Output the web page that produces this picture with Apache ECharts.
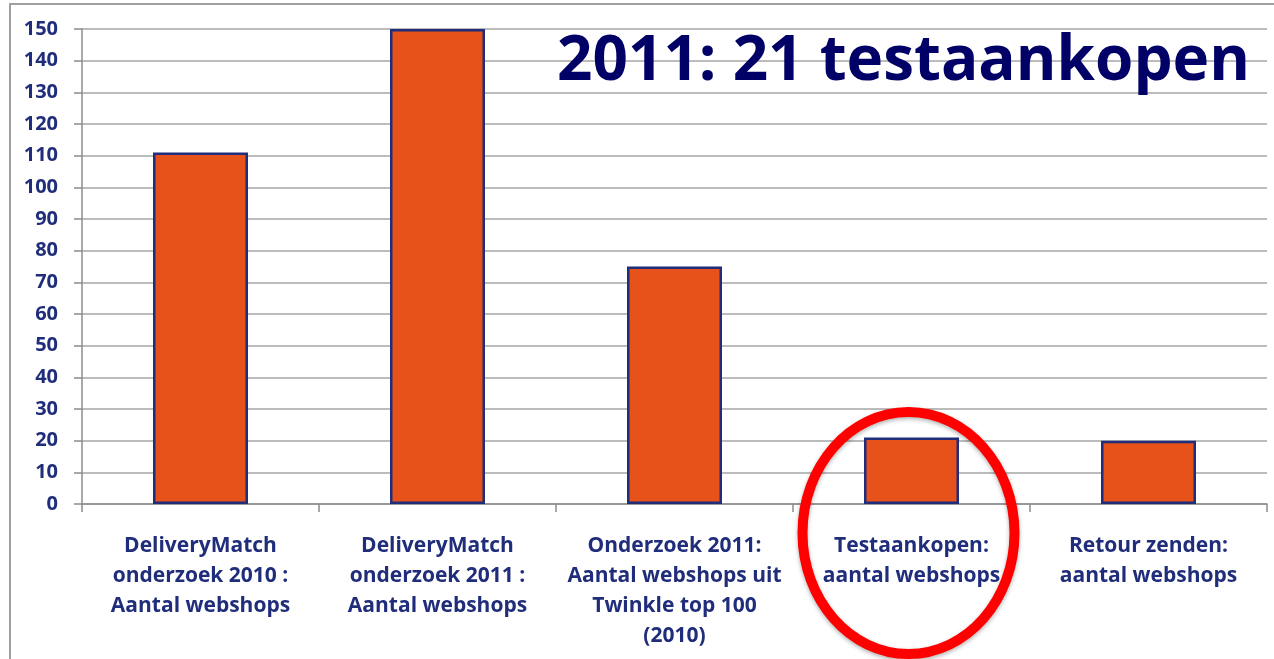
<!DOCTYPE html>
<html>
<head>
<meta charset="utf-8">
<title>Testaankopen</title>
<script src="https://cdn.jsdelivr.net/npm/echarts@6/dist/echarts.min.js"></script>
<style>
  html, body { margin: 0; padding: 0; background: #fff; }
  #chart { width: 1274px; height: 659px; }
</style>
</head>
<body>
<div id="chart"></div>
<script>
const categories = [
  'DeliveryMatch\nonderzoek 2010 :\nAantal webshops',
  'DeliveryMatch\nonderzoek 2011 :\nAantal webshops',
  'Onderzoek 2011:\nAantal webshops uit\nTwinkle top 100\n(2010)',
  'Testaankopen:\naantal webshops',
  'Retour zenden:\naantal webshops'
]
const values = [111, 150, 75, 21, 20]
const highlightIndex = 3 // circled category
const titleText = '2011: 21 testaankopen'

const navy = '#1F2D7A'
const labelFont = '"Open Sans", Lato, sans-serif'

const chart = echarts.init(document.getElementById('chart'))

chart.setOption({
  animation: false,
  grid: {
    left: 82,
    right: 7,
    top: 29,
    bottom: 155
  },
  xAxis: {
    type: 'category',
    data: categories,
    axisLine: { lineStyle: { color: '#8C8C8C', width: 1.5 } },
    axisTick: { show: true, length: 8, alignWithLabel: false, lineStyle: { color: '#8C8C8C', width: 1.5 } },
    axisLabel: {
      interval: 0,
      margin: 27,
      color: navy,
      fontFamily: labelFont,
      fontWeight: 'bold',
      fontSize: 21,
      lineHeight: 30,
      align: 'center'
    }
  },
  yAxis: {
    type: 'value',
    min: 0,
    max: 150,
    interval: 10,
    axisLine: { show: true, lineStyle: { color: '#8C8C8C', width: 1.5 } },
    axisTick: { show: true, length: 8, lineStyle: { color: '#8C8C8C', width: 1.5 } },
    splitLine: { lineStyle: { color: '#A6A6A6', width: 1.5 } },
    axisLabel: {
      margin: 24,
      color: navy,
      fontFamily: labelFont,
      fontWeight: 'bold',
      fontSize: 20
    }
  },
  series: [{
    type: 'bar',
    data: values,
    barWidth: 95,
    itemStyle: {
      color: '#E6521A',
      borderColor: navy,
      borderWidth: 2.5
    }
  }]
})

// frame, title and the red ellipse round the highlighted category
const cx = chart.convertToPixel({ xAxisIndex: 0 }, categories[highlightIndex]) - 3

chart.setOption({
  graphic: [
    {
      type: 'rect',
      shape: { x: 10, y: 4, width: 1300, height: 700 },
      style: { fill: 'none', stroke: '#A0A0A0', lineWidth: 2 },
      silent: true
    },
    {
      type: 'text',
      right: 24,
      top: 31,
      z: 11,
      style: {
        text: titleText,
        fill: '#000066',
        font: 'bold 62px "Open Sans", Lato, sans-serif'
      }
    },
    {
      type: 'ellipse',
      z: 12,
      shape: { cx: cx, cy: 533, rx: 106, ry: 121 },
      style: {
        fill: 'none',
        stroke: '#FF0000',
        lineWidth: 10,
        shadowBlur: 4,
        shadowOffsetY: 2,
        shadowColor: 'rgba(0,0,0,0.3)'
      }
    }
  ]
})
</script>
</body>
</html>
